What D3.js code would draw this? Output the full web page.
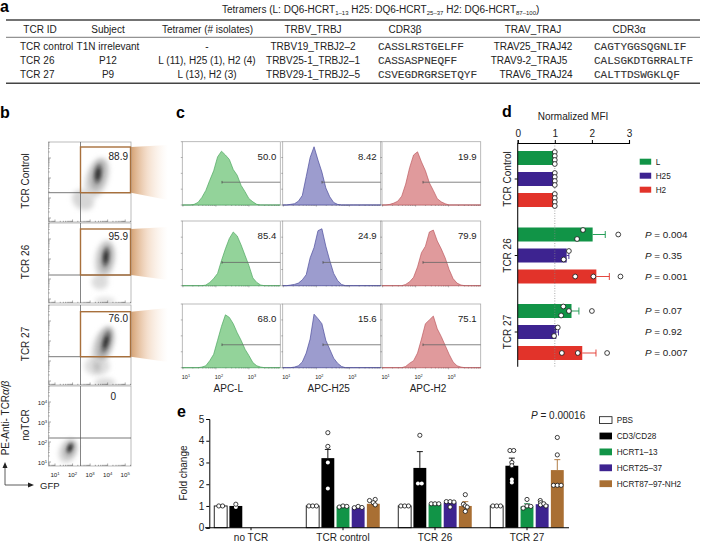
<!DOCTYPE html>
<html><head><meta charset="utf-8">
<script src="https://cdn.jsdelivr.net/npm/d3@7"></script>
<style>
html,body{margin:0;padding:0;background:#fff}
svg{display:block}
text{font-family:"Liberation Sans",Arial,sans-serif;fill:#222}
.mono{font-family:"Liberation Mono",monospace;fill:#333;stroke:#333;stroke-width:.1}
.letter{font-weight:700;font-size:16px;fill:#000}
</style></head><body>
<svg id="c" width="705" height="543"></svg>
<script>
// ---------- DATA ----------
const tableHeader = ["TCR ID","Subject","Tetramer (# isolates)","TRBV_TRBJ","CDR3β","TRAV_TRAJ","CDR3α"];
const tableRows = [
 ["TCR control","T1N irrelevant","-","TRBV19_TRBJ2–2","CASSLRSTGELFF","TRAV25_TRAJ42","CAGTYGGSQGNLIF"],
 ["TCR 26","P12","L (11), H25 (1), H2 (4)","TRBV25-1_TRBJ2–1","CASSASPNEQFF","TRAV9-2_TRAJ5","CALSGKDTGRRALTF"],
 ["TCR 27","P9","L (13), H2 (3)","TRBV29-1_TRBJ2–5","CSVEGDRGRSETQYF","TRAV6_TRAJ24","CALTTDSWGKLQF"]
];
const flowRows = ["TCR Control","TCR 26","TCR 27","noTCR"];
const flowPercents = ["88.9","95.9","76.0","0"];
const flowDecades = [1,2,3,4,5];
// density clouds: [log10 GFP, log10 TCR, x spread, y spread, tilt, grey level]
const flowClouds = [
 [[2.6,1.9,.66,.48,35,"#d6d6d6"],[3.39,3.0,.63,1.05,18,"#d6d6d6"],[3.45,3.15,.4,.75,14,"#aaa"],[3.45,3.2,.24,.5,8,"#777"],[3.45,3.2,.12,.3,8,"#333"]],
 [[3.85,.9,.6,.2,0,"#e4e4e4"],[3.56,1.85,.48,.38,0,"#dcdcdc"],[3.85,3.0,.57,.95,8,"#d6d6d6"],[3.9,3.05,.36,.7,8,"#aaa"],[3.9,3.1,.22,.5,6,"#777"],[3.9,3.1,.11,.3,6,"#333"]],
 [[3.85,.9,.6,.25,0,"#dcdcdc"],[3.4,1.75,.72,.48,0,"#dedede"],[3.4,1.75,.2,.3,0,"#bbb"],[3.74,2.8,.55,.95,20,"#d2d2d2"],[3.85,2.9,.36,.8,16,"#a4a4a4"],[3.9,2.95,.22,.55,15,"#777"],[3.9,2.95,.11,.32,15,"#333"]],
 [[1.74,1.55,.5,.6,22,"#d6d6d6"],[1.85,1.65,.28,.42,22,"#a4a4a4"],[1.85,1.7,.15,.26,22,"#666"],[1.85,1.7,.08,.15,22,"#222"]]
];
const histSeries = ["L","H25","H2"];
const histGates = [["50.0","8.42","19.9"],["85.4","24.9","79.9"],["68.0","15.6","75.1"]];
// histogram heights (percent of frame) every 4 percent of the frame width
const histHeights = [
 [[0,0,0,1,4,12,23,39,54,76,85,79,72,56,47,31,21,10,5,1,0,0,0,0,0,0],
  [0,0,1,2,6,15,45,75,92,71,52,27,13,4,1,0,0,0,0,0,0,0,0,0,0,0],
  [0,0,1,3,6,14,33,59,79,84,68,54,35,23,10,5,2,0,0,0,0,0,0,0,0,0]],
 [[0,0,0,0,0,0,1,5,11,19,39,57,73,83,77,63,47,31,12,5,1,0,0,0,0,0],
  [0,0,1,2,4,9,17,43,59,85,88,61,39,19,8,2,0,0,0,0,0,0,0,0,0,0],
  [0,0,0,0,0,0,2,6,13,29,51,61,83,86,69,57,43,25,11,4,1,0,0,0,0,0]],
 [[0,0,0,0,0,1,3,11,21,43,65,83,79,69,55,43,29,19,8,3,1,0,0,0,0,0],
  [0,0,0,1,3,9,23,45,84,77,69,43,29,15,7,2,0,0,0,0,0,0,0,0,0,0],
  [0,0,0,0,0,0,2,7,11,23,45,69,75,81,61,49,35,21,9,3,1,0,0,0,0,0]]
];
const histStart = [[222,322,423],[222,323,423],[222,323,423]];

const mfiGroups = ["TCR Control","TCR 26","TCR 27"];
const mfiSeries = ["L","H25","H2"];
const mfiMeans = [[1,1,1],[2.02,1.32,2.12],[1.45,1.04,1.74]];
const mfiTops  = [[1,1,1],[2.36,1.38,2.47],[1.65,1.1,2.11]];
const mfiPoints = [
 [[1,1,1,1],[1,1,1,1],[1,1,1,1]],
 [[1.76,1.6,2.71],[1.38,1.24],[1.55,2.04,2.77]],
 [[1.23,1.38,1.17,2.0],[1.08,.98],[1.19,1.62,2.41]]
];
const mfiPvalues = [[null,null,null],["0.004","0.35","0.001"],["0.07","0.92","0.007"]];

const foldGroups = ["no TCR","TCR control","TCR 26","TCR 27"];
const foldTreatments = ["PBS","CD3/CD28","HCRT1–13","HCRT25–37","HCRT87–97-NH2"];
const foldMeans = [[1,1,null,null,null],[1,3.2,.97,.93,1.1],[1,2.75,1.07,1.16,1.0],[1,2.85,.98,1.08,2.65]];
const foldTops  = [[1,1,null,null,null],[1,3.6,1.03,.98,1.2],[1,3.5,1.1,1.2,1.2],[1,3.2,1.1,1.15,3.13]];
const foldPoints = [
 [[1,1],[.95,1.08],[],[],[]],
 [[1,1,1],[4.37,3.74,3.0,1.8],[.95,1.0,.98],[.92,.98,.93],[1.25,1.3,1.15,1.05]],
 [[1,1,1],[4.25,2.03,2.03],[1.1,1.1,1.1],[1.2,1.2,.95,1.18],[1.52,1.08,1.0,.95,.75]],
 [[1,1,1],[3.55,3.55,3.0,2.85,2.08,2.22],[1.3,.9,1.0,.98],[1.25,1.15,1.05,1.1,1.0],[4.15,3.35,1.95,1.95,1.95]]
];

// ---------- STYLE / LAYOUT ----------
const svg = d3.select("#c");
const defs = svg.append("defs");
const FS=10;
const green="#119447", purple="#3d2390", red="#e2332a", brown="#a96f33";
const histFill={L:"#93d39a",H25:"#9c9cce",H2:"#e09a9c"}, histLine={L:"#4fa862",H25:"#4c4c9c",H2:"#bd5a60"};
const mfiColor={L:green,H25:purple,H2:red};
const foldColor={"PBS":"#fff","CD3/CD28":"#000","HCRT1–13":green,"HCRT25–37":purple,"HCRT87–97-NH2":brown};
const mfiLanes=[[[-6,-2,2,6],[-6,-2,2,6],[-6,-2,2,6]],[[-4.5,4.5,0],[-4.5,4],[0,0,0]],[[-4.5,0,4.5,0],[-4.5,4],[0,0,0]]];

[["a",0,12],["b",0,118],["c",176,118],["d",502,117],["e",177,417]].forEach(([t,x,y])=>
 svg.append("text").attr("class","letter").attr("x",x).attr("y",y).text(t));

// ---------- a: table ----------
const gA=svg.append("g");
const headX=[40,108,207.5,313,405,533,629];
const cellX=[[20,108,207,313,378,533,594],[20,108,207,313,378,529,594],[20,108,207,313,378,536,594]];
const title=gA.append("text").attr("x",222).attr("y",12.5).attr("font-size",FS);
[["Tetramers (L: DQ6-HCRT",0],["1–13",1],[" H25: DQ6-HCRT",0],["25–37",1],[" H2: DQ6-HCRT",0],["87–100",1],[")",0]].forEach(([t,s],i)=>
 title.append("tspan").attr("dy",i===0?0:(s?2.5:-2.5)).attr("font-size",s?6:FS).text(t));
[[20,1.4,"#444"],[37.3,.8,"#555"],[83.3,1.4,"#444"]].forEach(([y,w,c])=>
 gA.append("line").attr("x1",6).attr("x2",700).attr("y1",y).attr("y2",y).attr("stroke",c).attr("stroke-width",w));
tableHeader.forEach((h,i)=>gA.append("text").attr("x",headX[i]).attr("y",33.3).attr("text-anchor","middle").attr("font-size",FS).text(h));
tableRows.forEach((r,j)=>r.forEach((v,i)=>{
 const seq=i===4||i===6;
 gA.append("text").attr("class",seq?"mono":null).attr("x",cellX[j][i]).attr("y",50+j*14)
  .attr("text-anchor",(seq||i===0)?"start":"middle").attr("font-size",seq?11:FS).text(v);
}));

// ---------- b: flow ----------
[["blurWide",2.4],["blurCore",1.5]].forEach(([id,s])=>{
 const f=defs.append("filter").attr("id",id).attr("x","-80%").attr("y","-80%").attr("width","260%").attr("height","260%");
 f.append("feGaussianBlur").attr("stdDeviation",s);
});
const fan=defs.append("linearGradient").attr("id","fan");
fan.append("stop").attr("offset",0).attr("stop-color","#c98a50").attr("stop-opacity",.8);
fan.append("stop").attr("offset",.45).attr("stop-color","#e6b48a").attr("stop-opacity",.42);
fan.append("stop").attr("offset",1).attr("stop-color","#f7dcc4").attr("stop-opacity",0);
const fx=d3.scaleLinear().domain([.63,5.33]).range([48.5,131]);
const flowTop=[142,223,305,386], flowH=80;
const gateY=[192.7,275,356.7,438], gateTop=[147,229,311.7];
const fanEnds=[[145,200],[227,280],[308,362]];
flowRows.forEach((name,i)=>{
 const g=svg.append("g");
 const fy=d3.scaleLinear().domain([.8,4.8]).range([flowTop[i]+flowH,flowTop[i]]);
 const cid="clipF"+i;
 defs.append("clipPath").attr("id",cid).append("rect").attr("x",48.5).attr("y",flowTop[i]).attr("width",82.5).attr("height",flowH);
 if(i<3){
   g.append("path").attr("d",d3.line()([[131,gateTop[i]],[168,fanEnds[i][0]],[168,fanEnds[i][1]],[131,gateY[i]]])+"Z").attr("fill","url(#fan)");
 }
 const cloud=g.append("g").attr("clip-path",`url(#${cid})`);
 flowClouds[i].forEach(([cx,cy,rx,ry,a,col])=>{
  const X=fx(cx),Y=fy(cy);
  cloud.append("ellipse").attr("cx",X).attr("cy",Y).attr("rx",Math.abs(fx(cx+rx)-X)).attr("ry",Math.abs(fy(cy+ry)-Y))
   .attr("transform",`rotate(${a} ${X} ${Y})`).attr("fill",col).attr("filter",(col==="#333"||col==="#222"||col==="#777"||col==="#666")?"url(#blurCore)":"url(#blurWide)");
 });
 g.append("rect").attr("x",48.5).attr("y",flowTop[i]).attr("width",82.5).attr("height",flowH).attr("fill","none").attr("stroke","#aaa").attr("stroke-width",.8);
 const minors=[];[0,...flowDecades].forEach(d=>[1,2,3,4,5,6,7,8,9].forEach(m=>minors.push(d+Math.log10(m))));
 const yMinors=minors.filter(v=>v<4.8&&v>.8), xMinors=minors.filter(v=>v<5.33&&v>.63);
 g.selectAll(null).data(xMinors).enter().append("line").attr("x1",fx).attr("x2",fx).attr("y1",flowTop[i]+flowH).attr("y2",d=>flowTop[i]+flowH-(Number.isInteger(d)?2.5:1.2)).attr("stroke","#444").attr("stroke-width",.45);
 g.selectAll(null).data(yMinors).enter().append("line").attr("x1",48.5).attr("x2",d=>48.5+(Number.isInteger(d)?2.5:1.2)).attr("y1",fy).attr("y2",fy).attr("stroke","#444").attr("stroke-width",.45);
 g.append("line").attr("x1",80.5).attr("x2",80.5).attr("y1",flowTop[i]).attr("y2",flowTop[i]+flowH).attr("stroke","#666").attr("stroke-width",.8);
 g.append("line").attr("x1",48.5).attr("x2",131).attr("y1",gateY[i]).attr("y2",gateY[i]).attr("stroke","#555").attr("stroke-width",.8);
 if(i<3) g.append("rect").attr("x",80.5).attr("y",gateTop[i]).attr("width",50).attr("height",gateY[i]-gateTop[i]).attr("fill","none").attr("stroke","#a8703c").attr("stroke-width",1.4);
 g.append("text").attr("x",i<3?128:116).attr("y",[159.5,239.5,321.5,399.5][i]).attr("text-anchor","end").attr("font-size",FS).text(flowPercents[i]);
 g.append("text").attr("transform",`translate(29,${flowTop[i]+39}) rotate(-90)`).attr("text-anchor","middle").attr("font-size",FS).text(name);
 if(i===3){
  const lab=(sel,d)=>{sel.append("tspan").text("10");sel.append("tspan").attr("dy",-2).attr("font-size",4.2).text(d);};
  flowDecades.forEach(d=>{const t=g.append("text").attr("x",fx(d)).attr("y",477).attr("text-anchor","middle").attr("font-size",6.2);lab(t,d);});
  [1,2,3,4].forEach(d=>{const t=g.append("text").attr("x",47).attr("y",fy(d)+2.5).attr("text-anchor","end").attr("font-size",6.2);lab(t,d);});
 }
});
const pe=svg.append("text").attr("transform","translate(8.5,418) rotate(-90)").attr("text-anchor","middle").attr("font-size",FS);
pe.append("tspan").text("PE-Anti- TCR");pe.append("tspan").attr("font-style","italic").text("α/β");
svg.append("path").attr("d","M5,468V485H29").attr("fill","none").attr("stroke","#333").attr("stroke-width",.8);
svg.append("path").attr("d","M5,462l-2.5,6h5Z M34,485l-6,-2.5v5Z").attr("fill","#222");
svg.append("text").attr("x",40).attr("y",488.5).attr("font-size",9.5).text("GFP");

// ---------- c: histograms ----------
const colEdges=[[182.3,280.3],[282.7,380.7],[382,480.7]];
const rowEdges=[[141.7,205],[221,285.7],[304,367.7]];
const histFrac=d3.scaleLinear().domain([0,25]);
histGates.forEach((row,r)=>row.forEach((label,c)=>{
 const g=svg.append("g"),s=histSeries[c];
 const [x0,x1]=colEdges[c],[y0,y1]=rowEdges[r];
 const sx=histFrac.copy().range([x0,x1]), sy=d3.scaleLinear().domain([0,100]).range([y1,y0]);
 const dx=d3.scaleLinear().domain([1,4]).range([x0+.6,x0+99.6]);
 g.append("rect").attr("x",x0).attr("y",y0).attr("width",x1-x0).attr("height",y1-y0).attr("fill","none").attr("stroke","#aaa").attr("stroke-width",.8);
 g.append("path").attr("d",d3.area().x((d,i)=>sx(i)).y0(y1).y1(d=>sy(d))(histHeights[r][c]))
  .attr("fill",histFill[s]).attr("stroke",histLine[s]).attr("stroke-width",.7);
 const mins=[];[1,2,3].forEach(d=>[1,2,3,4,5,6,7,8,9].forEach(m=>{const v=d+Math.log10(m);if(dx(v)<x1)mins.push(v);}));
 g.selectAll(null).data(mins).enter().append("line").attr("x1",dx).attr("x2",dx).attr("y1",y1).attr("y2",d=>y1+(Number.isInteger(d)?1.6:.8)).attr("stroke","#444").attr("stroke-width",.4);
 [0,25,50,75,100].forEach(t=>g.append("line").attr("x1",x0-1.5).attr("x2",x0).attr("y1",y1-(y1-y0)*t/100).attr("y2",y1-(y1-y0)*t/100).attr("stroke","#444").attr("stroke-width",.4));
 const gy=y0+(y1-y0)*.64;
 g.append("line").attr("x1",histStart[r][c]).attr("x2",x1).attr("y1",gy).attr("y2",gy).attr("stroke","#666").attr("stroke-width",.8);
 g.append("line").attr("x1",histStart[r][c]).attr("x2",histStart[r][c]).attr("y1",gy-1.3).attr("y2",gy+1.3).attr("stroke","#444").attr("stroke-width",.7);
 g.append("text").attr("x",x1-4).attr("y",y0+18).attr("text-anchor","end").attr("font-size",9.6).text(label);
 if(r===2){
  [1,2,3].forEach(d=>{const t=g.append("text").attr("x",dx(d)+3).attr("y",379).attr("text-anchor","middle").attr("font-size",5.5);
    t.append("tspan").text("10");t.append("tspan").attr("dy",-1.8).attr("font-size",3.8).text(d);});
  g.append("text").attr("x",x0+46).attr("y",392).attr("text-anchor","middle").attr("font-size",FS).text("APC-"+s);
 }
}));

// ---------- d: MFI ----------
const gD=svg.append("g");
const mx=d3.scaleLinear().domain([0,3]).range([517.7,629]);
const my=d3.scaleBand().domain(mfiGroups).range([140.75,370.25]);
const myIn=d3.scaleBand().domain(mfiSeries).range([-28,28]).paddingInner(1/3);
mfiGroups.forEach((gr,i)=>{
 const c=my(gr)+my.bandwidth()/2;
 mfiSeries.forEach((s,j)=>{
  const y=c+myIn(s), h=myIn.bandwidth(), col=mfiColor[s];
  gD.append("line").attr("x1",mx(mfiMeans[i][j])).attr("x2",mx(mfiTops[i][j])).attr("y1",y+h/2).attr("y2",y+h/2).attr("stroke",col).attr("stroke-width",.9);
  if(mfiTops[i][j]>mfiMeans[i][j]) gD.append("line").attr("x1",mx(mfiTops[i][j])).attr("x2",mx(mfiTops[i][j])).attr("y1",y+h/2-3.5).attr("y2",y+h/2+3.5).attr("stroke",col).attr("stroke-width",.9);
  gD.append("rect").attr("x",mx(0)).attr("y",y).attr("width",mx(mfiMeans[i][j])-mx(0)).attr("height",h).attr("fill",col);
 });
});
gD.append("line").attr("x1",mx(1)).attr("x2",mx(1)).attr("y1",143).attr("y2",366.7).attr("stroke","#888").attr("stroke-width",.7).attr("stroke-dasharray","1,1.5");
mfiGroups.forEach((gr,i)=>{
 const c=my(gr)+my.bandwidth()/2;
 mfiSeries.forEach((s,j)=>{
  const y=c+myIn(s), h=myIn.bandwidth();
  mfiPoints[i][j].forEach((p,k)=>gD.append("circle").attr("cx",mx(p)).attr("cy",y+h/2+mfiLanes[i][j][k]).attr("r",2.4).attr("fill","#fff").attr("stroke","#111").attr("stroke-width",.8));
  if(mfiPvalues[i][j]){
   const t=gD.append("text").attr("x",645).attr("y",y+h/2+3.4).attr("font-size",9.9);
   t.append("tspan").attr("font-style","italic").text("P");t.append("tspan").text(" = "+mfiPvalues[i][j]);
  }
 });
 gD.append("text").attr("transform",`translate(510.5,${c}) rotate(-90)`).attr("text-anchor","middle").attr("font-size",FS).text(gr);
 gD.append("line").attr("x1",514.7).attr("x2",517.7).attr("y1",c).attr("y2",c).attr("stroke","#111").attr("stroke-width",1);
});
const axT=gD.append("g").attr("transform","translate(0,143)").call(d3.axisTop(mx).tickValues([0,1,2,3]).tickFormat(d3.format("d")).tickSize(3).tickPadding(3));
axT.select(".domain").attr("stroke-width",1.1);axT.selectAll("line").attr("stroke-width",1);
axT.selectAll("text").attr("font-size",FS).style("font-family","Liberation Sans");
gD.append("line").attr("x1",517.7).attr("x2",517.7).attr("y1",143).attr("y2",366.7).attr("stroke","#111").attr("stroke-width",1.1);
gD.append("text").attr("x",573).attr("y",120).attr("text-anchor","middle").attr("font-size",FS).text("Normalized MFI");
mfiSeries.forEach((s,i)=>{
 const y=158.7+i*14;
 gD.append("rect").attr("x",639.7).attr("y",y).attr("width",11.5).attr("height",6).attr("fill",mfiColor[s]);
 gD.append("text").attr("x",655.7).attr("y",y+6).attr("font-size",8.2).text(s);
});

// ---------- e: fold change ----------
const gE=svg.append("g");
const ey=d3.scaleLinear().domain([0,5]).range([527.7,419]);
const ex=d3.scaleBand().domain(foldGroups).range([205,573]);
const exIn=d3.scaleBand().domain(foldTreatments).range([-36.75,36.75]).paddingInner(.15).paddingOuter(0);
foldGroups.forEach((gr,i)=>{
 const c=ex(gr)+ex.bandwidth()/2;
 foldTreatments.forEach((t,j)=>{
  const m=foldMeans[i][j]; if(m==null) return;
  const x=c+exIn(t), w=exIn.bandwidth(), col=foldColor[t], lc=(j===0)?"#111":(j===1?"#000":col);
  if(foldTops[i][j]>m){
   gE.append("line").attr("x1",x+w/2).attr("x2",x+w/2).attr("y1",ey(m)).attr("y2",ey(foldTops[i][j])).attr("stroke",lc).attr("stroke-width",.9);
   gE.append("line").attr("x1",x+w/2-3).attr("x2",x+w/2+3).attr("y1",ey(foldTops[i][j])).attr("y2",ey(foldTops[i][j])).attr("stroke",lc).attr("stroke-width",.9);
  }
  gE.append("rect").attr("x",x).attr("y",ey(m)).attr("width",w).attr("height",ey(0)-ey(m)).attr("fill",col).attr("stroke",j===0?"#111":"none").attr("stroke-width",.9);
  const pts=foldPoints[i][j];
  pts.forEach((p,k)=>{
   const same=pts.filter(q=>Math.abs(q-p)<.12);
   const idx=same.indexOf(p)+pts.slice(0,k).filter(q=>q===p).length;
   const off=same.length>1?(idx-(same.length-1)/2)*Math.min(3.8,w/same.length):0;
   const onBlack=j===1&&p<m;
   gE.append("circle").attr("cx",x+w/2+off).attr("cy",ey(p)).attr("r",onBlack?2:2.1).attr("fill","#fff").attr("stroke",onBlack?"none":"#111").attr("stroke-width",.8);
  });
 });
 gE.append("text").attr("x",c).attr("y",540.7).attr("text-anchor","middle").attr("font-size",FS).text(gr);
});
const axL=gE.append("g").attr("transform","translate(209.3,0)").call(d3.axisLeft(ey).ticks(5).tickSize(3).tickPadding(2));
axL.select(".domain").attr("stroke-width",1);axL.selectAll("text").attr("font-size",FS).style("font-family","Liberation Sans");
const axB=gE.append("g").attr("transform","translate(0,527.7)").call(d3.axisBottom(ex).tickFormat("").tickSize(2.5));
axB.select(".domain").attr("d","M205,0H569").attr("stroke-width",1.1);
gE.append("text").attr("transform","translate(186.5,473) rotate(-90)").attr("text-anchor","middle").attr("font-size",FS).text("Fold change");
const pe2=gE.append("text").attr("x",531).attr("y",419).attr("font-size",FS);
pe2.append("tspan").attr("font-style","italic").text("P");pe2.append("tspan").text(" = 0.00016");
foldTreatments.forEach((t,i)=>{
 const y=420+i*15.9;
 gE.append("rect").attr("x",599.5).attr("y",y-3.3).attr("width",12.5).attr("height",6.8).attr("fill",foldColor[t]).attr("stroke",i===0?"#111":"none").attr("stroke-width",.8);
 gE.append("text").attr("x",616.7).attr("y",y+3).attr("font-size",8.2).text(t);
});
</script>
</body></html>
